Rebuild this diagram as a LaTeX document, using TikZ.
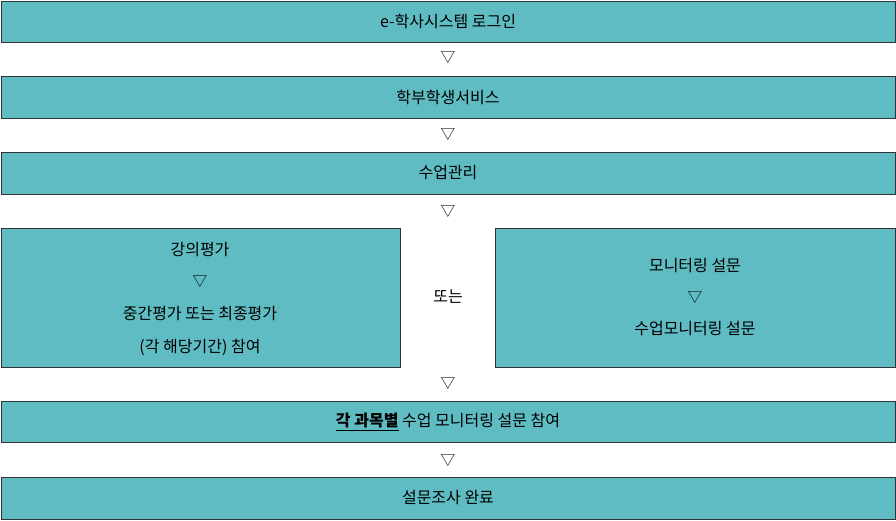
\documentclass[tikz,border=0pt]{standalone}
\usepackage{fontspec}
\setmainfont{Noto Sans CJK KR}
\begin{document}
\begin{tikzpicture}[x=0.75pt,y=-0.75pt,
  box/.style={draw=black!80,fill={rgb,255:red,95;green,188;blue,195},line width=0.6pt},
  lbl/.style={font=\fontsize{12}{14}\selectfont,align=center},
  tri/.style={font=\fontsize{11}{13}\selectfont}]
\useasboundingbox (0,0) rectangle (896,521);
\draw[box] (1,1) rectangle (895,42);
\node[lbl] (a) at (448,21) {e-학사시스템 로그인};
\node[tri] (t1) at (448,57) {▽};
\draw[box] (1,76) rectangle (895,118);
\node[lbl] (b) at (448,97) {학부학생서비스};
\node[tri] (t2) at (448,134) {▽};
\draw[box] (1,152) rectangle (895,194);
\node[lbl] (c) at (448,173) {수업관리};
\node[tri] (t3) at (448,211) {▽};
\draw[box] (1,228) rectangle (400,367);
\node[lbl] (l1) at (200,250) {강의평가};
\node[tri] (lt) at (200,281) {▽};
\node[lbl] (l2) at (200,314) {중간평가 또는 최종평가};
\node[lbl] (l3) at (200,347) {(각 해당기간) 참여};
\node[lbl] (or) at (448,297) {또는};
\draw[box] (495,228) rectangle (895,367);
\node[lbl] (r1) at (695,266) {모니터링 설문};
\node[tri] (rt) at (695,297) {▽};
\node[lbl] (r2) at (695,329) {수업모니터링 설문};
\node[tri] (t4) at (448,383) {▽};
\draw[box] (1,401) rectangle (895,442);
\node[lbl] (e) at (448,422) {\underline{\textbf{각 과목별}} 수업 모니터링 설문 참여};
\node[tri] (t5) at (448,460) {▽};
\draw[box] (1,477) rectangle (895,519);
\node[lbl] (f) at (448,498) {설문조사 완료};
\end{tikzpicture}
\end{document}
